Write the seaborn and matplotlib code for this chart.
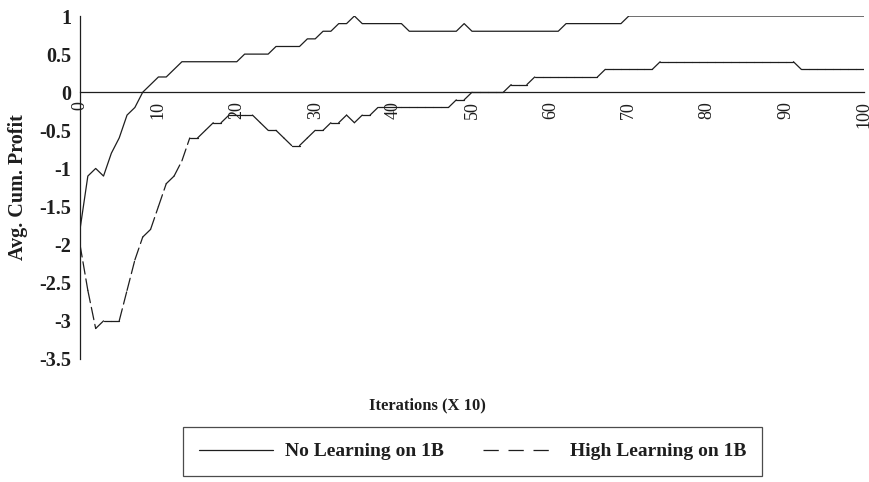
import matplotlib
matplotlib.use("Agg")
import matplotlib.pyplot as plt
from matplotlib.lines import Line2D
import numpy as np
import pandas as pd
import seaborn as sns

# x axis: iterations (x 10)
iterations = list(range(0, 101))

no_learning = [
    -1.8, -1.1, -1.0, -1.1, -0.8, -0.6, -0.3, -0.2, 0.0, 0.1,
    0.2, 0.2, 0.3, 0.4, 0.4, 0.4, 0.4, 0.4, 0.4, 0.4,
    0.4, 0.5, 0.5, 0.5, 0.5, 0.6, 0.6, 0.6, 0.6, 0.7,
    0.7, 0.8, 0.8, 0.9, 0.9, 1.0, 0.9, 0.9, 0.9, 0.9,
    0.9, 0.9, 0.8, 0.8, 0.8, 0.8, 0.8, 0.8, 0.8, 0.9,
    0.8, 0.8, 0.8, 0.8, 0.8, 0.8, 0.8, 0.8, 0.8, 0.8,
    0.8, 0.8, 0.9, 0.9, 0.9, 0.9, 0.9, 0.9, 0.9, 0.9,
    1.0, 1.0, 1.0, 1.0, 1.0, 1.0, 1.0, 1.0, 1.0, 1.0,
    1.0, 1.0, 1.0, 1.0, 1.0, 1.0, 1.0, 1.0, 1.0, 1.0,
    1.0, 1.0, 1.0, 1.0, 1.0, 1.0, 1.0, 1.0, 1.0, 1.0,
    1.0,
]

high_learning = [
    -2.0, -2.6, -3.1, -3.0, -3.0, -3.0, -2.6, -2.2, -1.9, -1.8,
    -1.5, -1.2, -1.1, -0.9, -0.6, -0.6, -0.5, -0.4, -0.4, -0.3,
    -0.3, -0.3, -0.3, -0.4, -0.5, -0.5, -0.6, -0.7, -0.7, -0.6,
    -0.5, -0.5, -0.4, -0.4, -0.3, -0.4, -0.3, -0.3, -0.2, -0.2,
    -0.2, -0.2, -0.2, -0.2, -0.2, -0.2, -0.2, -0.2, -0.1, -0.1,
    0.0, 0.0, 0.0, 0.0, 0.0, 0.1, 0.1, 0.1, 0.2, 0.2,
    0.2, 0.2, 0.2, 0.2, 0.2, 0.2, 0.2, 0.3, 0.3, 0.3,
    0.3, 0.3, 0.3, 0.3, 0.4, 0.4, 0.4, 0.4, 0.4, 0.4,
    0.4, 0.4, 0.4, 0.4, 0.4, 0.4, 0.4, 0.4, 0.4, 0.4,
    0.4, 0.4, 0.3, 0.3, 0.3, 0.3, 0.3, 0.3, 0.3, 0.3,
    0.3,
]

series_names = ['No Learning on 1B', 'High Learning on 1B']
x_ticks = [0, 10, 20, 30, 40, 50, 60, 70, 80, 90, 100]
y_ticks = [1, 0.5, 0, -0.5, -1, -1.5, -2, -2.5, -3, -3.5]
y_tick_labels = ['1', '0.5', '0', '-0.5', '-1', '-1.5', '-2', '-2.5', '-3', '-3.5']

sns.set_theme(style="white")
plt.rcParams['font.family'] = ['Liberation Serif', 'DejaVu Serif']
plt.rcParams['lines.scale_dashes'] = False

ink = '#1e1e1e'
dash = (0, (9, 3.5))

fig = plt.figure(figsize=(8.7, 4.82), dpi=100)
ax = fig.add_axes([80 / 870, 1 - 359 / 482, 784 / 870, 343 / 482])

sns.lineplot(x=iterations, y=no_learning, color=ink, linewidth=0.9, ax=ax)

# the dashed series is stroked segment by segment (dash pattern restarts at each point)
seg_df = pd.DataFrame({
    'x': iterations[:-1] + iterations[1:],
    'y': high_learning[:-1] + high_learning[1:],
    'seg': list(range(len(iterations) - 1)) * 2,
})
sns.lineplot(data=seg_df, x='x', y='y', units='seg', estimator=None,
             color=ink, linewidth=0.9, linestyle=dash, dash_capstyle='round', ax=ax)

# spine position first: it resets the tick objects
for side in ['top', 'right']:
    ax.spines[side].set_visible(False)
ax.spines['bottom'].set_position(('data', 0))
for side in ['left', 'bottom']:
    ax.spines[side].set_color(ink)
    ax.spines[side].set_linewidth(0.9)

ax.set_xlim(0, 100)
ax.set_ylim(-3.5, 1)
ax.set_xticks(x_ticks)
ax.set_xticklabels([str(t) for t in x_ticks], rotation=90, fontsize=13, color=ink)
ax.set_yticks(y_ticks)
ax.set_yticklabels(y_tick_labels, fontsize=14.5, fontweight='bold', color=ink)

ax.tick_params(axis='both', direction='inout', length=6.5, width=0.9, color=ink)
ax.tick_params(axis='x', pad=3)
ax.tick_params(axis='y', pad=3)
ax.set_xlabel('')
ax.set_ylabel('Avg. Cum. Profit', fontsize=14.5, fontweight='bold', color=ink, labelpad=8)

fig.text(427 / 870, 1 - 405 / 482, 'Iterations (X 10)', ha='center', va='center',
         fontsize=12, fontweight='bold', color=ink)

handles = [
    Line2D([], [], color=ink, linewidth=0.9),
    Line2D([], [], color=ink, linewidth=0.9, linestyle=(0, (11, 7))),
]
leg = fig.legend(handles, series_names, loc='center',
                 bbox_to_anchor=((184 + 761) / 2 / 870, 1 - (425 + 478) / 2 / 482),
                 ncol=2, fancybox=False, frameon=True,
                 handlelength=3.85, handletextpad=0.62, columnspacing=2.0,
                 borderpad=0.8, prop={'size': 14, 'weight': 'bold'})
leg.get_frame().set_edgecolor(ink)
leg.get_frame().set_linewidth(0.9)
for t in leg.get_texts():
    t.set_color(ink)

plt.savefig('out.png', dpi=100, facecolor='white')
